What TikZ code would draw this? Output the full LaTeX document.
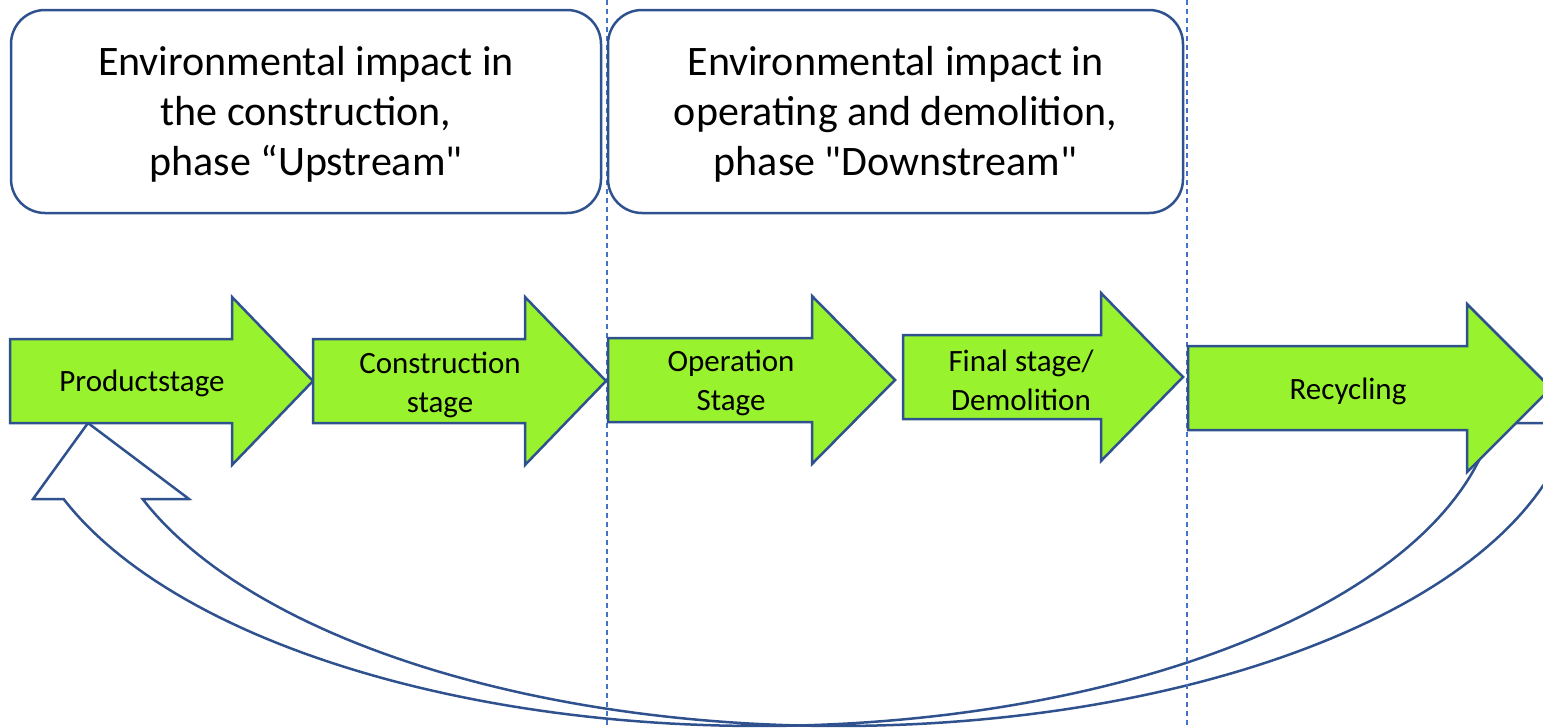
\documentclass[tikz,border=0pt]{standalone}
\usepackage{fontspec}
\setmainfont{Carlito}[Ligatures=TeXOff]

\definecolor{shapeline}{RGB}{47,82,143}
\definecolor{stagegreen}{RGB}{153,242,46}
\definecolor{divider}{RGB}{68,114,196}

\tikzset{
  phasebox/.style={draw=shapeline, line width=2.5pt, rounded corners=34pt,
    inner sep=0pt, minimum height=203pt},
  phasetext/.style={align=center, inner sep=0pt, font=\fontsize{42}{50}\selectfont},
  stagefill/.style={fill=stagegreen, draw=shapeline, line width=2.5pt},
  stagetext/.style={align=center, inner sep=0pt, font=\fontsize{31}{39}\selectfont},
  backflow/.style={fill=white, draw=shapeline, line width=2.5pt},
  divide/.style={draw=divider, line width=1.2pt, dash pattern=on 5pt off 4pt}
}

% tail x, head base x, tip x, middle y
\newcommand\stagearrow[4]{%
  \filldraw[stagefill] (#1,#4-42) -- (#2,#4-42) -- (#2,#4-84) -- (#3,#4)
    -- (#2,#4+84) -- (#2,#4+42) -- (#1,#4+42) -- cycle;}

\begin{document}
\begin{tikzpicture}[x=1pt,y=-1pt]
\def\rx{739} % half width of the loop
\def\ry{343} % depth of the loop
\def\cy{383} % level of the loop centre
\useasboundingbox (0,0) rectangle (1543,728);
\clip (0,0) rectangle (1543,728);

% loop from recycling back to the product stage
\coordinate (tip) at (88,423);
\filldraw[backflow] (tip) -- (189,499)
  -- plot[domain=160.2:6.7, samples=120, variable=\t] ({838+\rx*cos(\t)}, {\cy+\ry*sin(\t)})
  -- plot[domain=6.7:160.2, samples=120, variable=\t] ({759+\rx*cos(\t)}, {\cy+\ry*sin(\t)})
  -- (33,499) -- cycle;

% phase borders
\draw[divide] (607,0) -- (607,728);
\draw[divide] (1187,0) -- (1187,728);

% life cycle stages
\stagearrow{10}{232}{313}{381}
\stagearrow{313}{525}{606}{381}
\stagearrow{608}{812}{895}{380}
\stagearrow{903}{1101}{1183}{377}
\stagearrow{1188}{1467}{1551}{388}

\node[stagetext] (product) at (142,383) {Productstage};
\node[stagetext] (construction) at (440,385) {Construction\\stage};
\node[stagetext] (operation) at (731,383) {Operation\\Stage};
\node[stagetext] (final) at (1021,380) {Final stage/\\Demolition};
\node[stagetext] (recycling) at (1348,391) {Recycling};

% phase headings
\node[phasebox, minimum width=590pt] (upstream) at (306,111.5) {};
\node[phasebox, minimum width=575pt] (downstream) at (895.5,111.5) {};
\node[phasetext] (uptext) at ([yshift=-3pt]upstream.center)
  {Environmental impact in\\the construction,\\phase “Upstream"};
\node[phasetext] (downtext) at ([yshift=-3pt]downstream.center)
  {Environmental impact in\\operating and demolition,\\phase "Downstream"};
\end{tikzpicture}
\end{document}
